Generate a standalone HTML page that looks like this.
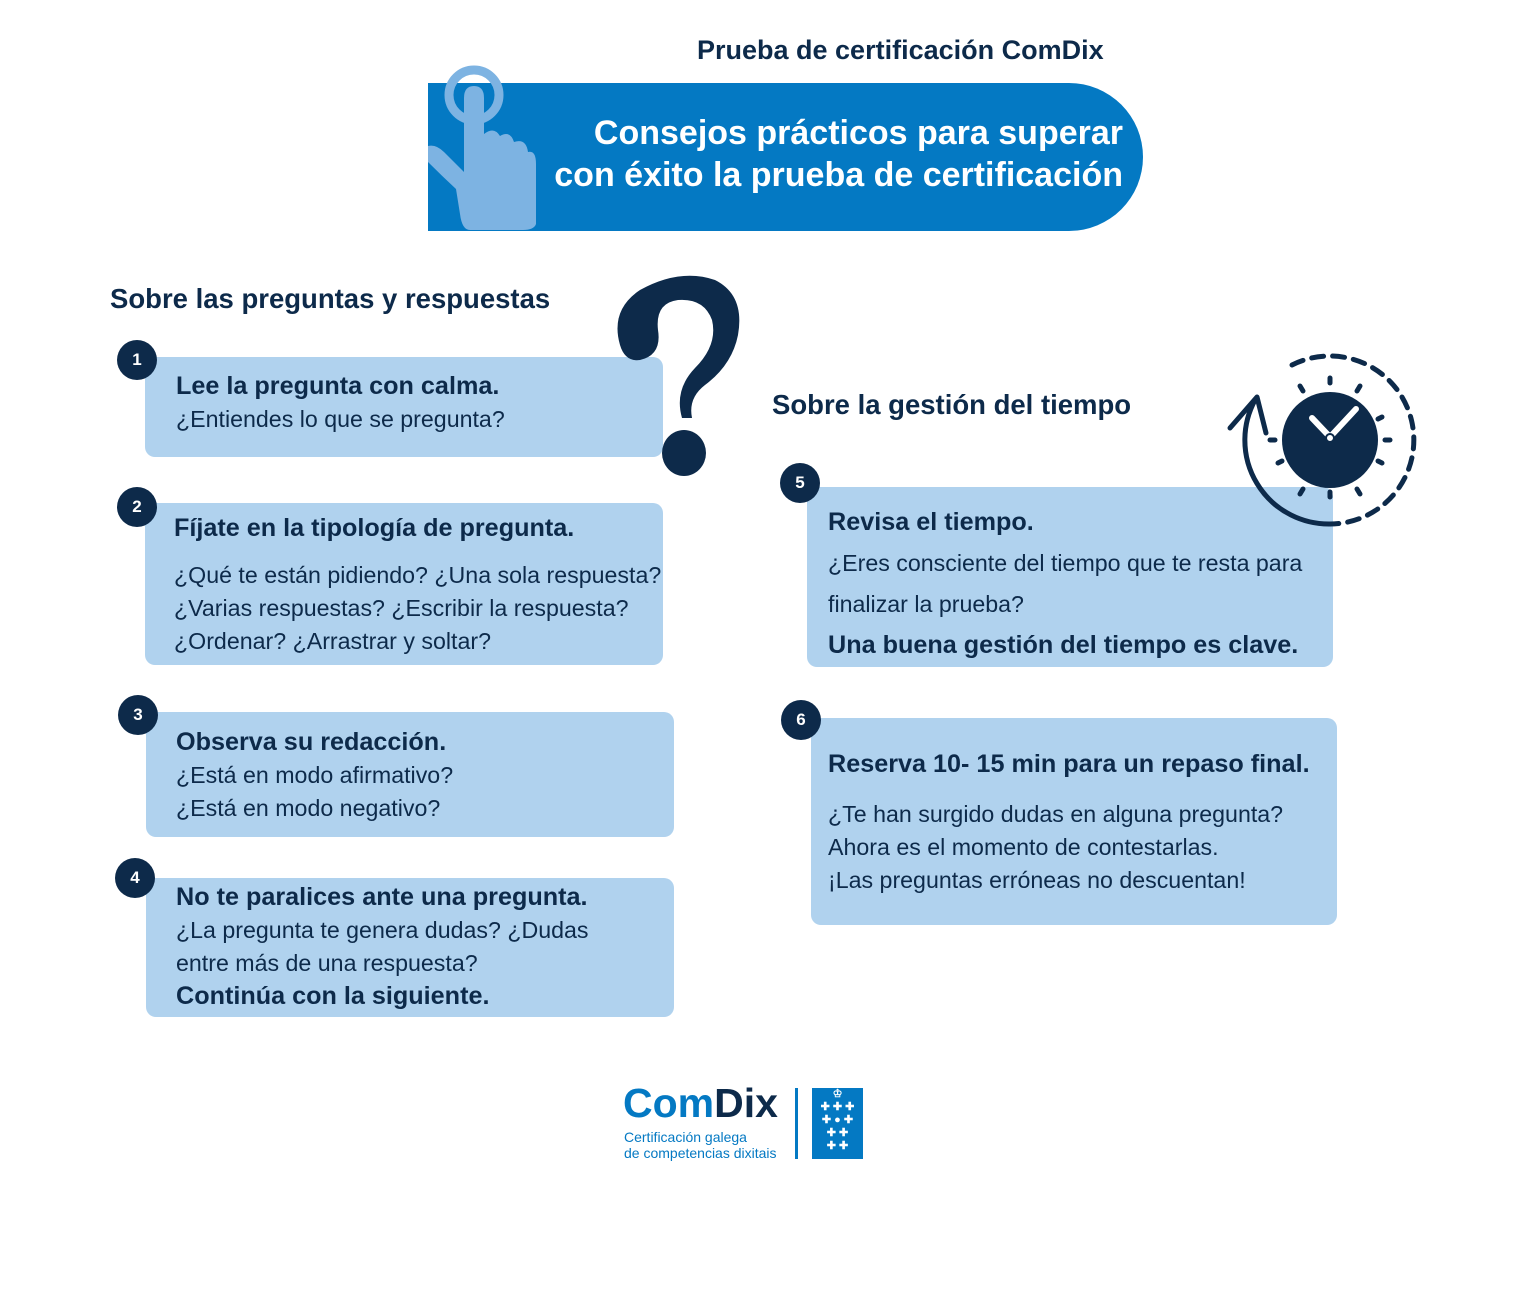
<!DOCTYPE html>
<html><head><meta charset="utf-8"><style>
body{margin:0;width:1537px;height:1297px;background:#fff;position:relative;font-family:"Liberation Sans",sans-serif;color:#0d2a4a;overflow:hidden}
.a{position:absolute}
.box{position:absolute;background:#b0d2ee;border-radius:10px}
.n{position:absolute;width:40px;height:40px;border-radius:50%;background:#0d2a4a;color:#fff;font-weight:bold;font-size:17px;text-align:center;line-height:40px}
.t{position:absolute;font-size:23.2px;line-height:33px;white-space:nowrap}
.t b{font-size:25.2px}
b{font-weight:bold}
</style></head><body>
<div class="a" style="left:697px;top:35px;font-size:27px;font-weight:bold;white-space:nowrap">Prueba de certificación ComDix</div>
<div class="a" style="left:428px;top:83px;width:715px;height:148px;background:#0479c3;border-radius:0 74px 74px 0"></div>
<svg class="a" style="left:428px;top:64px" width="120" height="170">
<circle cx="46" cy="31" r="25" fill="none" stroke="#7db3e2" stroke-width="9"/>
<path d="M36 34 Q36 22 46 22 Q56 22 56 34 L56 70 Q66 62 72 72 Q82 66 86 78 Q98 74 100 88 Q108 86 108 100 L108 160 Q106 166 95 166 L42 166 Q34 166 32 150 L28 125 Q14 112 0 98 L0 82 Q8 80 16 88 L36 108 Z" fill="#7db3e2"/>
</svg>
<div class="a" style="left:500px;top:112px;width:623px;text-align:right;color:#fff;font-weight:bold;font-size:34px;line-height:42px;white-space:nowrap">Consejos prácticos para superar<br>con éxito la prueba de certificación</div>

<div class="a" style="left:110px;top:283px;font-size:27.5px;font-weight:bold;white-space:nowrap">Sobre las preguntas y respuestas</div>
<div class="a" style="left:772px;top:389px;font-size:27.5px;font-weight:bold;white-space:nowrap">Sobre la gestión del tiempo</div>

<div class="box" style="left:145px;top:357px;width:518px;height:100px"></div>
<div class="box" style="left:145px;top:503px;width:518px;height:162px"></div>
<div class="box" style="left:146px;top:712px;width:528px;height:125px"></div>
<div class="box" style="left:146px;top:878px;width:528px;height:139px"></div>
<div class="box" style="left:807px;top:487px;width:526px;height:180px"></div>
<div class="box" style="left:811px;top:718px;width:526px;height:207px"></div>

<svg class="a" style="left:600px;top:270px" width="150" height="215">
<path d="M20 75 Q10 40 40 20 Q80 -2 115 10 Q145 25 138 65 Q132 95 105 115 Q88 128 92 148 L82 148 Q74 120 95 98 Q118 75 112 50 Q104 28 78 30 Q55 33 58 60 Q62 85 40 90 Q25 92 20 75Z" fill="#0d2a4a"/>
<ellipse cx="84" cy="183" rx="22" ry="23" fill="#0d2a4a"/>
</svg>

<svg class="a" style="left:1220px;top:345px" width="210" height="190">
<circle cx="110" cy="95" r="48" fill="#0d2a4a"/>
<path d="M92 73 L110 92 L136 64" stroke="#fff" stroke-width="6" fill="none" stroke-linecap="round"/>
<circle cx="110" cy="93" r="4" fill="#fff" stroke="#0d2a4a" stroke-width="2"/>
<g stroke="#0d2a4a" stroke-width="5" stroke-linecap="round">
<line x1="110" y1="33" x2="110" y2="38"/><line x1="110" y1="152" x2="110" y2="147"/>
<line x1="50" y1="95" x2="55" y2="95"/><line x1="170" y1="95" x2="165" y2="95"/>
<line x1="80" y1="41" x2="83" y2="46"/><line x1="140" y1="41" x2="137" y2="46"/>
<line x1="80" y1="149" x2="83" y2="144"/><line x1="140" y1="149" x2="137" y2="144"/>
<line x1="58" y1="118" x2="62" y2="116"/><line x1="162" y1="118" x2="158" y2="116"/>
<line x1="162" y1="72" x2="158" y2="74"/>
</g>
<path d="M72 20 A84 84 0 1 1 110 179" fill="none" stroke="#0d2a4a" stroke-width="5" stroke-dasharray="12 9" stroke-linecap="round"/>
<path d="M110 179 A84 84 0 0 1 35 55" fill="none" stroke="#0d2a4a" stroke-width="5" stroke-linecap="round"/>
<path d="M10 83 L37 52 L46 88" fill="none" stroke="#0d2a4a" stroke-width="5" stroke-linecap="round" stroke-linejoin="round"/>
</svg>

<div class="n" style="left:117px;top:340px">1</div>
<div class="n" style="left:117px;top:487px">2</div>
<div class="n" style="left:118px;top:695px">3</div>
<div class="n" style="left:115px;top:858px">4</div>
<div class="n" style="left:780px;top:463px">5</div>
<div class="n" style="left:781px;top:700px">6</div>

<div class="t" style="left:176px;top:370px"><b>Lee la pregunta con calma.</b><br>¿Entiendes lo que se pregunta?</div>
<div class="t" style="left:174px;top:512px"><b>Fíjate en la tipología de pregunta.</b></div>
<div class="t" style="left:174px;top:559px">¿Qué te están pidiendo? ¿Una sola respuesta?<br>¿Varias respuestas? ¿Escribir la respuesta?<br>¿Ordenar? ¿Arrastrar y soltar?</div>
<div class="t" style="left:176px;top:726px"><b>Observa su redacción.</b><br>¿Está en modo afirmativo?<br>¿Está en modo negativo?</div>
<div class="t" style="left:176px;top:881px"><b>No te paralices ante una pregunta.</b><br>¿La pregunta te genera dudas? ¿Dudas<br>entre más de una respuesta?<br><b>Continúa con la siguiente.</b></div>
<div class="t" style="left:828px;top:502px;line-height:41px"><b>Revisa el tiempo.</b><br>¿Eres consciente del tiempo que te resta para<br>finalizar la prueba?<br><b>Una buena gestión del tiempo es clave.</b></div>
<div class="t" style="left:828px;top:748px"><b>Reserva 10- 15 min para un repaso final.</b></div>
<div class="t" style="left:828px;top:798px">¿Te han surgido dudas en alguna pregunta?<br>Ahora es el momento de contestarlas.<br>¡Las preguntas erróneas no descuentan!</div>

<div class="a" style="left:623px;top:1080px;font-size:41px;font-weight:bold;color:#0479c3">Com<span style="color:#0d2a4a">Dix</span></div>
<div class="a" style="left:624px;top:1129px;font-size:14px;line-height:16px;color:#0479c3;white-space:nowrap">Certificación galega<br>de competencias dixitais</div>
<div class="a" style="left:795px;top:1088px;width:3px;height:71px;background:#0479c3"></div>
<div class="a" style="left:812px;top:1088px;width:51px;height:71px;background:#0479c3;color:#fff;font-size:11px;text-align:center;line-height:13px;font-weight:bold">♔<br>✚ ✚ ✚<br>✚ ● ✚<br>✚ ✚<br>✚ ✚</div>
</body></html>
